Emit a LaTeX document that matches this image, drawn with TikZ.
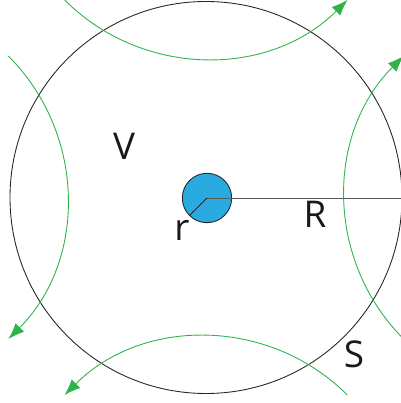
\documentclass[tikz,border=0pt]{standalone}
\usepackage{fontspec}
\setmainfont{Open Sans}
\usepackage{xcolor}
\usepackage{tikz}
\usetikzlibrary{arrows.meta}
\definecolor{flowgreen}{HTML}{2DB34A}
\definecolor{dropblue}{HTML}{29ABE2}

\begin{document}
\begin{tikzpicture}[
    x=0.02cm,y=0.02cm,
    boundary/.style={draw=black!85,line width=0.5pt},
    radius line/.style={draw=black!65,line width=0.5pt},
    flow/.style={draw=flowgreen,line width=0.5pt,-{Latex[length=3.2mm,width=2.4mm]}},
    lbl/.style={font=\fontsize{21}{24}\selectfont,inner sep=0pt,text=black!90}
]
\clip (0,0) rectangle (401,403);

\coordinate (c) at (206,205.5);
\coordinate (drop) at (207,205);
\coordinate (rim) at (402,205);

% outer boundary and the drop
\draw[boundary] (c) circle[radius=196];
\draw[boundary,fill=dropblue] (drop) circle[radius=24.7];
\draw[radius line] (drop) -- (rim);
\draw[boundary] (drop) -- ++(225:24.7);

% flow arcs
\draw[flow] (c) ++(90:339) ++(225:200) arc[start angle=225,end angle=315,radius=200];
\draw[flow] (c) ++(180:339) ++(45:200) arc[start angle=45,end angle=-45,radius=200];
\draw[flow] (c) ++(0:339) ++(225:200) arc[start angle=225,end angle=135,radius=200];
\draw[flow] (c) ++(270:339) ++(45:200) arc[start angle=45,end angle=135,radius=200];

\node[lbl] (vol) at (124,257) {V};
\node[lbl] (small r) at (182,173) {r};
\node[lbl] (big R) at (315,188.5) {R};
\node[lbl] (surf) at (354,49) {S};
\end{tikzpicture}
\end{document}
